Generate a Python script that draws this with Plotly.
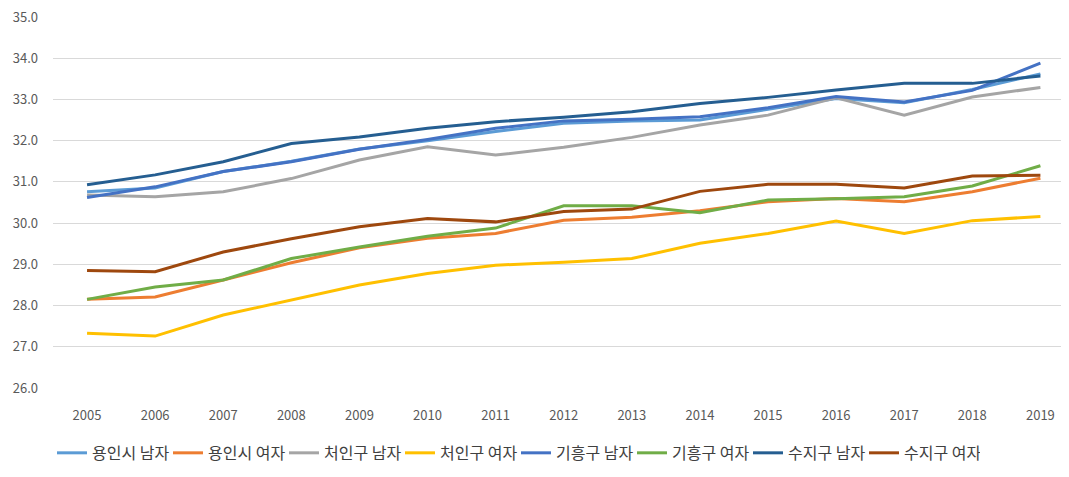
import plotly.graph_objects as go

years = [2005, 2006, 2007, 2008, 2009, 2010, 2011, 2012, 2013, 2014, 2015, 2016, 2017, 2018, 2019]

series_names = ["용인시 남자", "용인시 여자", "처인구 남자", "처인구 여자",
                "기흥구 남자", "기흥구 여자", "수지구 남자", "수지구 여자"]

yongin_m = [30.76, 30.85, 31.25, 31.50, 31.80, 32.00, 32.22, 32.42, 32.48, 32.50, 32.76, 33.02, 32.92, 33.24, 33.62]
yongin_f = [28.15, 28.21, 28.62, 29.04, 29.40, 29.63, 29.75, 30.07, 30.14, 30.30, 30.52, 30.60, 30.52, 30.76, 31.09]
cheoin_m = [30.68, 30.64, 30.76, 31.08, 31.53, 31.85, 31.65, 31.84, 32.08, 32.38, 32.62, 33.04, 32.62, 33.06, 33.29]
cheoin_f = [27.33, 27.26, 27.77, 28.13, 28.50, 28.78, 28.98, 29.05, 29.14, 29.51, 29.75, 30.05, 29.75, 30.06, 30.16]
giheung_m = [30.62, 30.88, 31.25, 31.49, 31.79, 32.03, 32.30, 32.48, 32.52, 32.58, 32.80, 33.07, 32.94, 33.22, 33.88]
giheung_f = [28.15, 28.45, 28.62, 29.14, 29.42, 29.68, 29.88, 30.42, 30.42, 30.25, 30.56, 30.59, 30.64, 30.90, 31.39]
suji_m = [30.93, 31.17, 31.49, 31.93, 32.09, 32.30, 32.46, 32.57, 32.70, 32.90, 33.05, 33.23, 33.39, 33.39, 33.57]
suji_f = [28.85, 28.82, 29.30, 29.62, 29.91, 30.11, 30.03, 30.28, 30.34, 30.77, 30.94, 30.94, 30.85, 31.14, 31.16]

all_values = [yongin_m, yongin_f, cheoin_m, cheoin_f, giheung_m, giheung_f, suji_m, suji_f]
colors = ["#5B9BD5", "#ED7D31", "#A5A5A5", "#FFC000", "#4472C4", "#70AD47", "#255E91", "#9E480E"]

y_ticks = [26, 27, 28, 29, 30, 31, 32, 33, 34, 35]
y_tick_labels = ["26.0", "27.0", "28.0", "29.0", "30.0", "31.0", "32.0", "33.0", "34.0", "35.0"]

fig = go.Figure()
for name, vals, col in zip(series_names, all_values, colors):
    fig.add_trace(go.Scatter(x=years, y=vals, name=name, mode="lines",
                             line=dict(color=col, width=3)))

font_family = "Noto Sans CJK KR, sans-serif"
fig.update_layout(
    width=1061, height=469,
    margin=dict(l=45, r=0, t=9, b=89),
    paper_bgcolor="white", plot_bgcolor="white",
    font=dict(family=font_family, color="#595959", size=13),
    showlegend=True,
    legend=dict(orientation="h", x=-0.001, xanchor="left", y=-0.175, yanchor="middle",
                font=dict(size=16, color="#404040"), itemwidth=30, traceorder="normal",
                entrywidth=71, entrywidthmode="pixels", tracegroupgap=0,
                bgcolor="rgba(0,0,0,0)"),
    xaxis=dict(range=[2004.5, 2019.42], tickmode="array", tickvals=years,
               ticktext=[str(y) for y in years], showgrid=False, zeroline=False,
               showline=False, ticks="", automargin=False, ticklabelstandoff=18,
               ticklabeloverflow="allow",
               tickfont=dict(size=13, color="#595959")),
    yaxis=dict(range=[26, 35], tickmode="array", tickvals=y_ticks, ticktext=y_tick_labels,
               showgrid=True, gridcolor="#D9D9D9", gridwidth=1, zeroline=False,
               showline=False, ticks="", automargin=False, ticklabelstandoff=14,
               ticklabeloverflow="allow",
               tickfont=dict(size=13, color="#595959")),
)

fig.write_html("out.html")
